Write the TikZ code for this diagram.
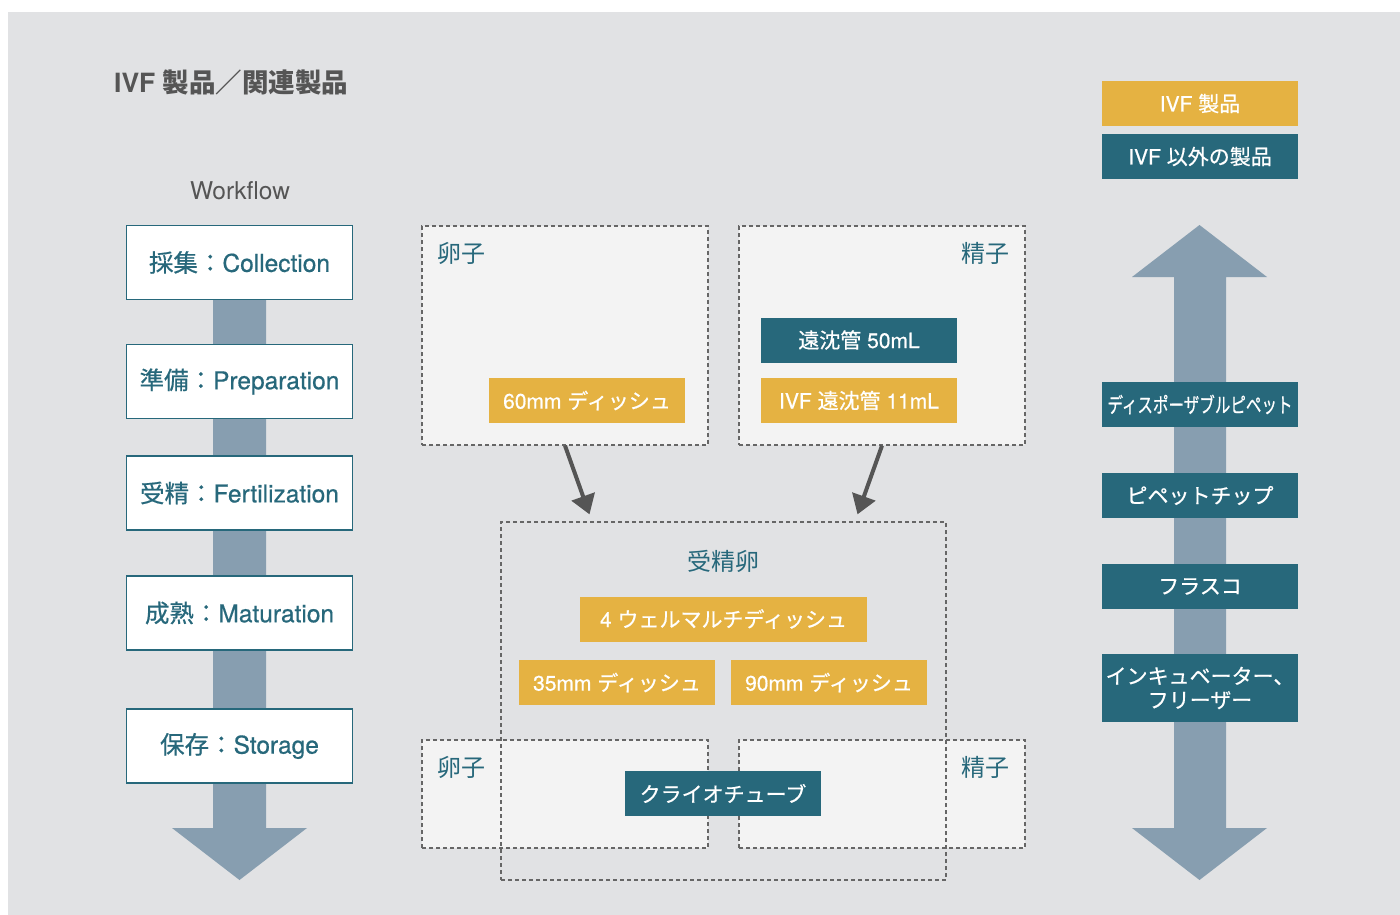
\documentclass[tikz,border=0pt]{standalone}
\usepackage{fontspec}
\usepackage{graphicx}
\usepackage{xcolor}
\setmainfont{TeX Gyre Heros}
\newfontfamily\jp{Noto Sans CJK JP}
\newfontfamily\medio{TeX Gyre Heros}[FakeBold=0.6]
\newfontfamily\jpmedio{Noto Sans CJK JP}[FakeBold=0.6]
\usetikzlibrary{arrows.meta,positioning}
\definecolor{fondo}{HTML}{E1E2E4}
\definecolor{claro}{HTML}{F3F3F3}
\definecolor{azul}{HTML}{27687B}
\definecolor{oro}{HTML}{E5B242}
\definecolor{acero}{HTML}{879EB0}
\definecolor{gris}{HTML}{555555}
\definecolor{borde}{HTML}{666666}

\tikzset{
  flujo/.style={draw=azul, line width=1.2pt, fill=white, minimum width=226pt, minimum height=74pt,
    inner sep=0pt, text=azul, font=\fontsize{24.5}{27}\selectfont\medio},
  zona/.style={draw=borde, dash pattern=on 4pt off 3pt, line width=1.3pt, inner sep=0pt},
  amarillo/.style={fill=oro, text=white, minimum width=196pt, minimum height=45pt, inner sep=0pt,
    font=\fontsize{21}{24}\selectfont\medio},
  verde/.style={amarillo, fill=azul},
  rotulo/.style={text=azul, inner sep=0pt, font=\fontsize{24}{26}\selectfont\jp},
  flecha/.style={draw=gris, line width=4pt, -{Triangle[width=24pt,length=19pt]}},
}

\begin{document}
\begin{tikzpicture}[x=1pt, y=-1pt]
    \useasboundingbox (0,0) rectangle (1400,915);
    % Fondo gris
    \fill[fondo] (8,12) rectangle (1400,915);

    % Titulo y encabezado
    \node[anchor=west, inner sep=0pt, text=gris, font=\fontsize{26.5}{28}\selectfont\bfseries] (titulo) at (114,82)
        {IVF {\jp\bfseries 製品／関連製品}};
    \node[inner sep=0pt, text=gris, font=\fontsize{24.5}{27}\selectfont] (workflow) at (240,191) {Workflow};

    % Flecha del flujo de trabajo
    \fill[acero] (213,262) -- (266,262) -- (266,828) -- (307,828) -- (239.5,880) -- (172,828) -- (213,828) -- cycle;

    % Etapas del flujo
    \node[flujo] (coleccion) at (239.5,262.5) {{\jpmedio 採集：}Collection};
    \node[flujo] (preparacion) at (239.5,381.5) {{\jpmedio 準備：}Preparation};
    \node[flujo] (fertilizacion) at (239.5,493) {{\jpmedio 受精：}Fertilization};
    \node[flujo] (maduracion) at (239.5,613) {{\jpmedio 成熟：}Maturation};
    \node[flujo] (almacen) at (239.5,746) {{\jpmedio 保存：}Storage};

    % Zonas superiores
    \node[zona, fill=claro, minimum width=286pt, minimum height=219pt] (ovulo) at (565,335.5) {};
    \node[zona, fill=claro, minimum width=286pt, minimum height=219pt] (esperma) at (882,335.5) {};
    \node[rotulo, anchor=west] (ovuloTxt) at (437,253) {卵子};
    \node[rotulo, anchor=east] (espermaTxt) at (1010,253) {精子};
    \node[amarillo] (placa60) at (587,400.5) {60mm {\jpmedio ディッシュ}};
    \node[verde] (tubo50) at (859,340) {{\jpmedio 遠沈管} 50mL};
    \node[amarillo] (tubo11) at (859,400.5) {IVF {\jpmedio 遠沈管} 11mL};

    % Zonas inferiores
    \node[zona, fill=claro, minimum width=286pt, minimum height=108pt] (ovuloB) at (565,794) {};
    \node[zona, fill=claro, minimum width=286pt, minimum height=108pt] (espermaB) at (882,794) {};
    \node[rotulo, anchor=west] (ovuloBTxt) at (437,767) {卵子};
    \node[rotulo, anchor=east] (espermaBTxt) at (1010,767) {精子};

    % Ovulo fecundado
    \node[zona, minimum width=445pt, minimum height=358pt] (cigoto) at (723.5,701) {};
    \node[rotulo] (cigotoTxt) at (723.5,561) {受精卵};
    \node[amarillo, minimum width=287pt] (multi4) at (723.5,619) {4 {\jpmedio ウェルマルチディッシュ}};
    \node[amarillo] (placa35) at (617,682.5) {35mm {\jpmedio ディッシュ}};
    \node[amarillo] (placa90) at (829,682.5) {90mm {\jpmedio ディッシュ}};
    \node[verde] (crio) at (723,793.5) {\jpmedio クライオチューブ};

    % Flechas hacia el ovulo fecundado
    \draw[flecha] (ovulo.south) -- ([xshift=-134pt,yshift=7pt]cigoto.north);
    \draw[flecha] (esperma.south) -- ([xshift=134pt,yshift=7pt]cigoto.north);

    % Leyenda
    \node[amarillo] (leyIVF) at (1200,103.5) {IVF {\jpmedio 製品}};
    \node[verde] (leyOtro) at (1200,156.5) {IVF {\jpmedio 以外の製品}};

    % Flecha doble de productos
    \fill[acero] (1199.5,225) -- (1267,277) -- (1226,277) -- (1226,828) -- (1267,828) -- (1199.5,880)
        -- (1132,828) -- (1174,828) -- (1174,277) -- (1132,277) -- cycle;

    % Productos generales
    \node[verde] (pipeta) at (1200,404.5) {\scalebox{0.74}[1]{\jpmedio ディスポーザブルピペット}};
    \node[verde] (punta) at (1200,495.5) {\jpmedio ピペットチップ};
    \node[verde] (frasco) at (1200,586.5) {\jpmedio フラスコ};
    \node[verde, minimum height=68pt, align=center, font=\fontsize{21}{24}\selectfont\jpmedio] (incubadora) at (1200,688)
        {インキュベーター、\\フリーザー};
\end{tikzpicture}
\end{document}
